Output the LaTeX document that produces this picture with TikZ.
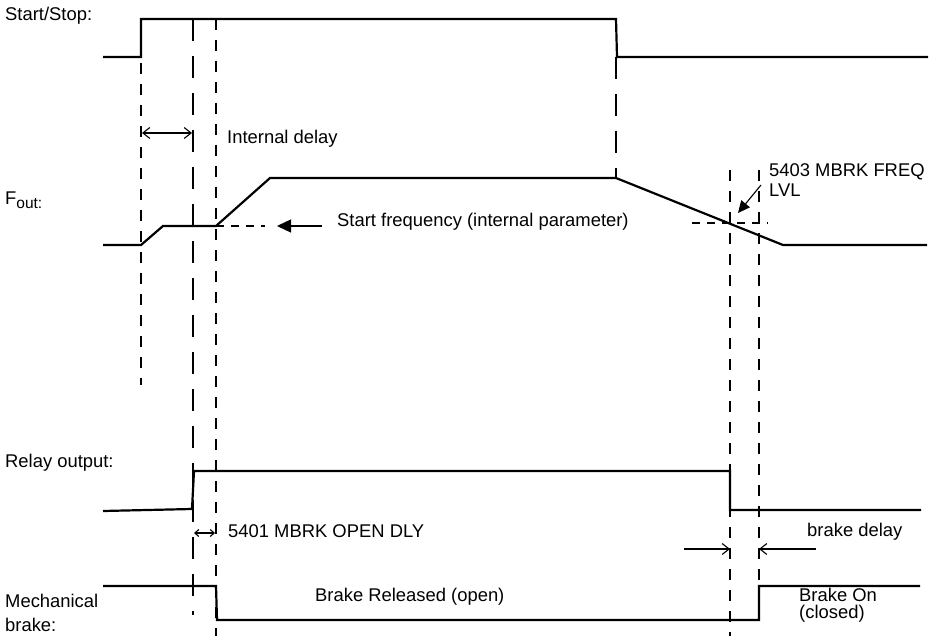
\documentclass[tikz,border=0pt]{standalone}
\usepackage{fontspec}
\setmainfont{Liberation Sans}
\usetikzlibrary{arrows.meta}
\begin{document}
\begin{tikzpicture}[x=1pt,y=-1pt,
  sig/.style={line width=2.2pt, line join=miter},
  sdash/.style={line width=1.6pt, dash pattern=on 11pt off 10pt},
  ldash/.style={line width=1.6pt, dash pattern=on 22pt off 15pt},
  hdash/.style={line width=1.4pt, dash pattern=on 8pt off 7pt},
  lbl/.style={anchor=base west, inner sep=0pt, font=\fontsize{18.4}{20}\selectfont},
  dimarr/.style={line width=1.1pt, {Straight Barb[length=7pt,width=11pt]}-{Straight Barb[length=7pt,width=11pt]}},
  smallarr/.style={line width=1.1pt, {Straight Barb[length=4pt,width=7pt]}-{Straight Barb[length=4pt,width=7pt]}},
  onearr/.style={line width=1.1pt, -{Straight Barb[length=7pt,width=11pt]}},
  fillarr/.style={line width=1.3pt, -{Triangle[length=14pt,width=13pt]}},
]
\useasboundingbox (0,0) rectangle (936,636);

% signals
\draw[sig] (103,57) -- (141,57) -- (141,19) -- (616,19) -- (617,57) -- (928,57);
\draw[sig] (103,245) -- (141,245) -- (163,226) -- (216,226) -- (270,178) -- (616,178) -- (783,245) -- (927,245);
\draw[sig] (103,511) -- (192,509) -- (194,471) -- (730,471) -- (730,510) -- (921,510);
\draw[sig] (103,586) -- (216,586) -- (217,620) -- (759,620) -- (759,586) -- (920,586);

% vertical markers
\draw[sdash] (141,63) -- (141,385);
\draw[ldash] (193,19) -- (193,615);
\draw[sdash] (216,19) -- (216,636);
\draw[ldash] (616,57) -- (616,178);
\draw[sdash] (730,170) -- (730,636);
\draw[sdash] (759,170) -- (759,587);

% horizontal dashed
\draw[hdash] (216,226) -- (265,226);
\draw[hdash] (692,223) -- (768,223);

% arrows
\coordinate (idL) at (142,133); \coordinate (idR) at (192,133);
\draw[dimarr] (idL) -- (idR);
\coordinate (odL) at (194,533); \coordinate (odR) at (215,533);
\draw[smallarr] (odL) -- (odR);
\coordinate (bd1) at (684,549); \coordinate (bd2) at (730,549);
\coordinate (bd3) at (816,549); \coordinate (bd4) at (759,549);
\draw[onearr] (bd1) -- (bd2);
\draw[onearr] (bd3) -- (bd4);
\coordinate (sf1) at (322,226); \coordinate (sf2) at (277,226);
\draw[fillarr] (sf1) -- (sf2);
\coordinate (lv1) at (761,185); \coordinate (lv2) at (738,213);
\draw[line width=1.1pt, -{Triangle[length=12pt,width=11pt]}] (lv1) -- (lv2);

% labels
\node[lbl] (tss) at (5,21) {Start/Stop:};
\node[lbl] (tfo) at (5,205) {F\raisebox{-3.5pt}{\fontsize{15.5}{16}\selectfont out:}};
\node[lbl] (tro) at (5,467) {Relay output:};
\node[lbl] (tmb1) at (5,607) {Mechanical};
\node[lbl] (tmb2) at (5,631) {brake:};
\node[lbl] (tid) at (227,144) {Internal delay};
\node[lbl] (tsf) at (337,227) {Start frequency (internal parameter)};
\node[lbl] (t5403a) at (769,177) {5403 MBRK FREQ};
\node[lbl] (t5403b) at (769,197) {LVL};
\node[lbl] (t5401) at (228,537) {5401 MBRK OPEN DLY};
\node[lbl] (tbd) at (807,536) {brake delay};
\node[lbl] (tbr) at (315,601) {Brake Released (open)};
\node[lbl] (tbo1) at (799,601) {Brake On};
\node[lbl] (tbo2) at (799,618) {(closed)};
\end{tikzpicture}
\end{document}
